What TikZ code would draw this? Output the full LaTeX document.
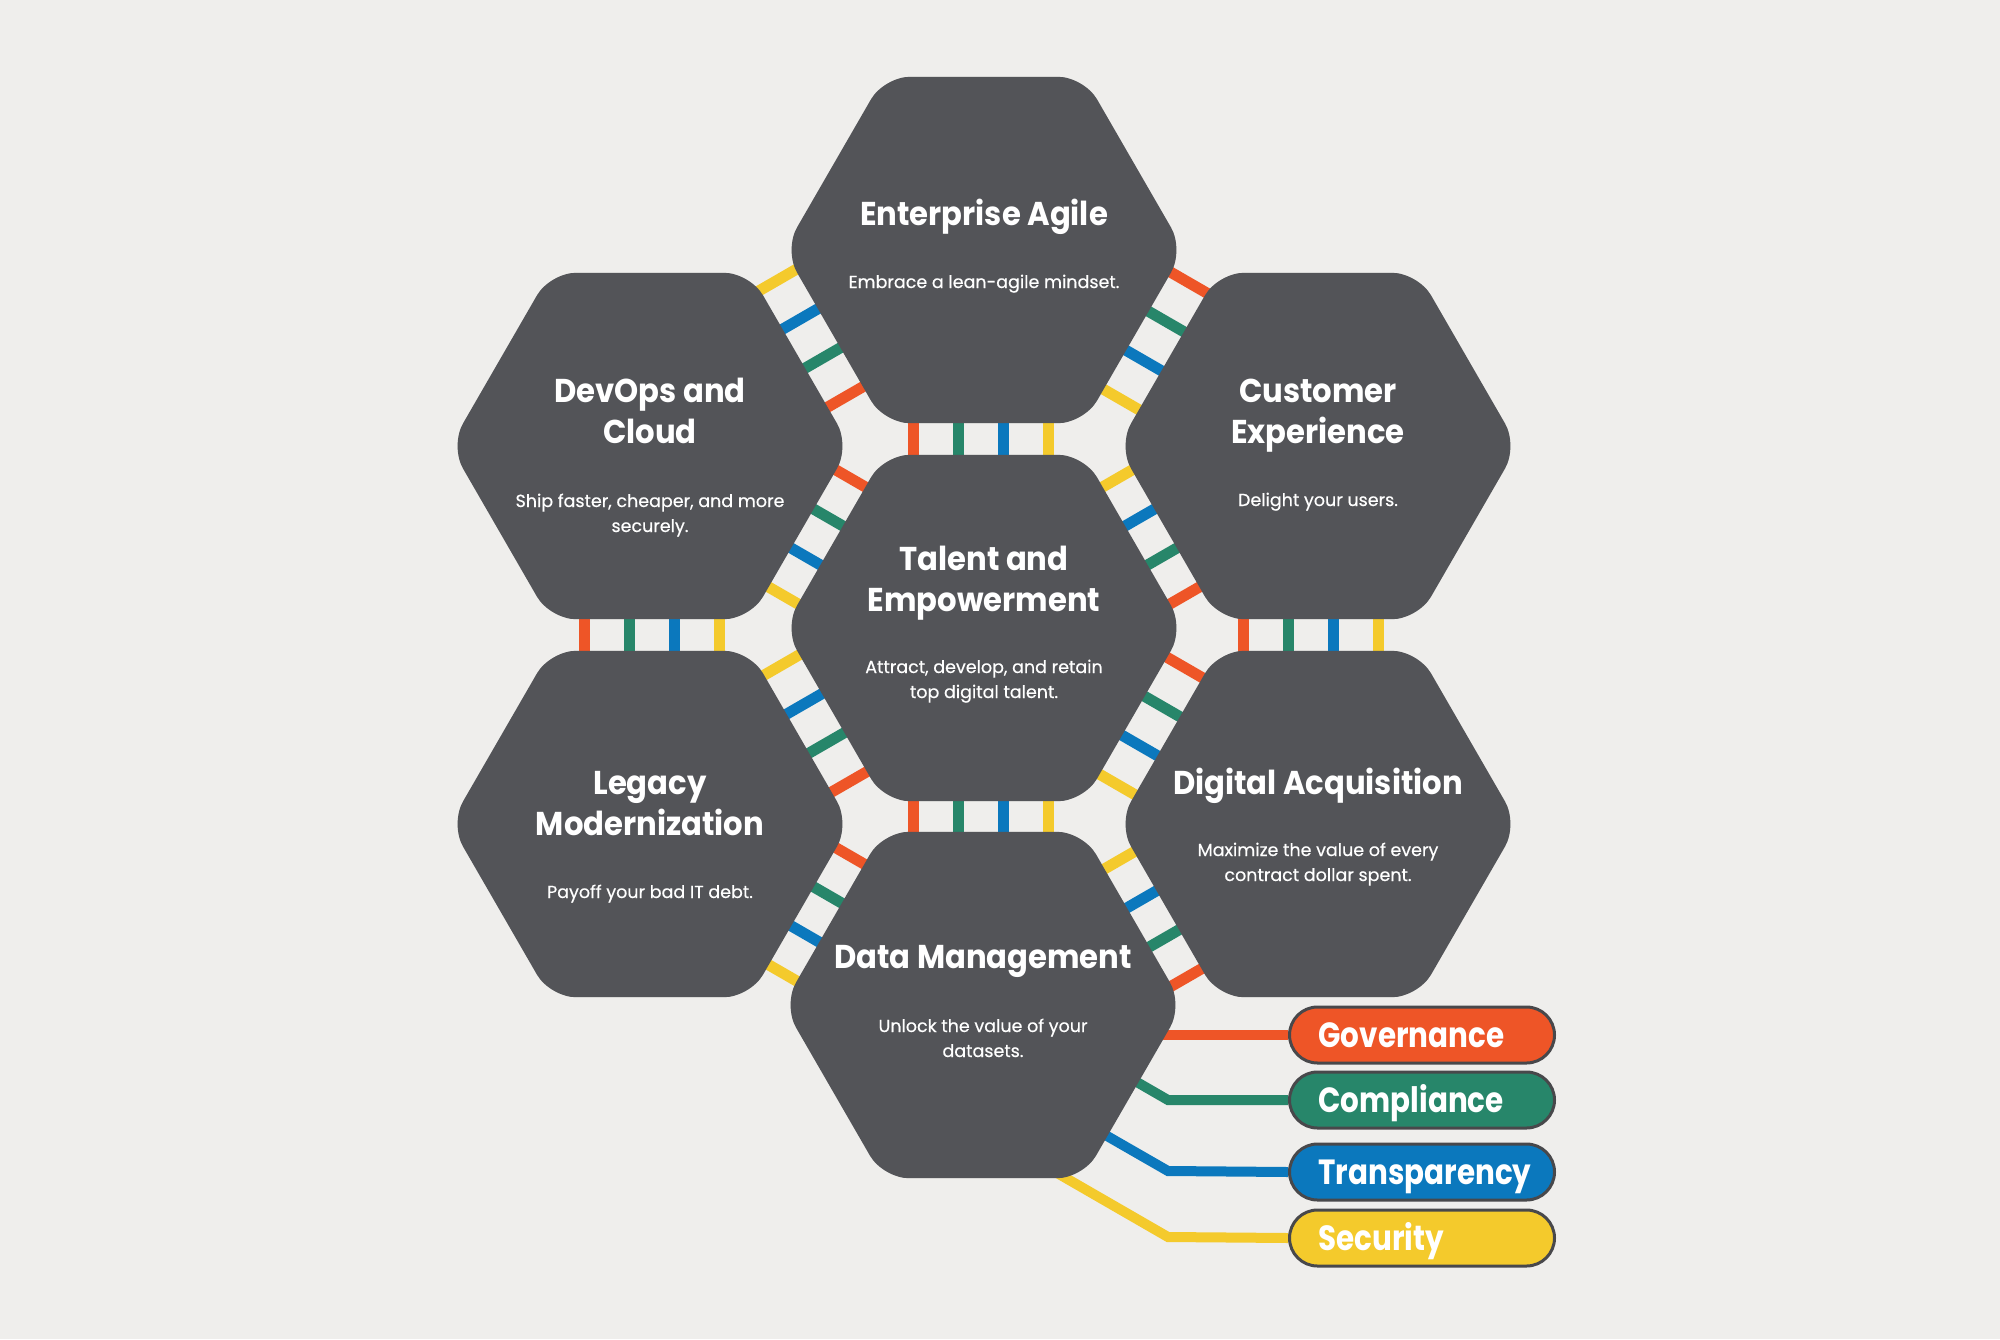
\documentclass[tikz,border=0pt]{standalone}
\usepackage{fontspec}
\setmainfont{Poppins}
\newfontfamily\ttlf{Poppins}[FakeStretch=0.93]
\newfontfamily\lgdf{Poppins}[FakeStretch=0.84]
\newfontfamily\bdyf{Poppins}[FakeBold=0.4]
\usetikzlibrary{calc}

\definecolor{bg}{HTML}{EFEEEC}
\definecolor{shade}{HTML}{DCDBD9}
\definecolor{hexc}{HTML}{535458}
\definecolor{cO}{HTML}{EE5527}
\definecolor{cG}{HTML}{27866A}
\definecolor{cB}{HTML}{0B78BD}
\definecolor{cY}{HTML}{F4CA2C}
\definecolor{rim}{HTML}{48484B}

\newcommand\ttlfont{\ttlf\fontsize{33}{40}\selectfont\bfseries}
\newcommand\bdyfont{\bdyf\fontsize{17.5}{25}\selectfont}
\newcommand\lgdfont{\lgdf\fontsize{35}{40}\selectfont\bfseries}

% hexagon outline around a centre, starting mid bottom edge
\newcommand\hexpath[1]{($(#1)+(0,173.2)$) -- ($(#1)+(120:200)$) -- ($(#1)+(180:200)$) -- ($(#1)+(240:200)$) -- ($(#1)+(300:200)$) -- ($(#1)+(0:200)$) -- ($(#1)+(60:200)$) -- cycle}

% ladder of four rungs between two hexagons
\newcommand\ladder[6]{%
  \coordinate (m) at ($(#1)!0.5!(#2)$);
  \foreach \col [count=\i] in {#6} {%
    \draw[rung=\col] ($(m)+(#4:{(\i-2.5)*45+#5})+(#3:-30)$) -- ($(m)+(#4:{(\i-2.5)*45+#5})+(#3:30)$);
  }%
}

\begin{document}
\begin{tikzpicture}[x=1pt,y=-1pt,
  rung/.style={line width=11pt, draw=#1},
  legline/.style={line width=10pt, draw=#1},
  hexfill/.style={fill=hexc, rounded corners=26pt},
  hexshade/.style={fill=shade, rounded corners=26pt},
  ttl/.style={text=white, font=\ttlfont, anchor=base, inner sep=0pt},
  bdy/.style={text=white, font=\bdyfont, anchor=base, inner sep=0pt},
  legbox/.style={fill=#1, draw=rim, line width=3pt, rounded corners=28pt,
    minimum width=265pt, minimum height=56pt, text width=207pt,
    inner xsep=29pt, inner ysep=0pt, align=left, text height=27pt,
    text depth=2pt, text=white, font=\lgdfont, anchor=west}
]
\useasboundingbox (0,0) rectangle (2000,1339);
\fill[bg] (0,0) rectangle (2000,1339);

\coordinate (ea)  at (984,250);
\coordinate (dev) at (650,446);
\coordinate (cx)  at (1318,446);
\coordinate (tal) at (984,628);
\coordinate (leg) at (650,824);
\coordinate (dig) at (1318,824);
\coordinate (dm)  at (983,1005);

% shadows
\begin{scope}[shift={(14,5)}]
\foreach \h in {ea,dev,cx,tal,leg,dig,dm} { \fill[hexshade] \hexpath{\h}; }
\end{scope}

% ladders
\ladder{ea}{tal}{90}{0}{-3}{cO,cG,cB,cY}
\ladder{tal}{dm}{90}{0}{-3}{cO,cG,cB,cY}
\ladder{dev}{leg}{90}{0}{2}{cO,cG,cB,cY}
\ladder{cx}{dig}{90}{0}{-7}{cO,cG,cB,cY}
\ladder{ea}{dev}{150}{60}{-11}{cY,cB,cG,cO}
\ladder{ea}{cx}{30}{120}{-8}{cO,cG,cB,cY}
\ladder{dev}{tal}{30}{120}{0}{cO,cG,cB,cY}
\ladder{cx}{tal}{150}{60}{0}{cY,cB,cG,cO}
\ladder{tal}{leg}{150}{60}{-3}{cY,cB,cG,cO}
\ladder{tal}{dig}{30}{120}{0}{cO,cG,cB,cY}
\ladder{leg}{dm}{30}{120}{0}{cO,cG,cB,cY}
\ladder{dig}{dm}{150}{60}{5}{cY,cB,cG,cO}

% legend anchors
\coordinate (govA)   at (1288,1035);
\coordinate (compA)  at (1288,1100);
\coordinate (transA) at (1288,1172);
\coordinate (secA)   at (1288,1238);

% legend lines from Data Management
\draw[legline=cO] ($(dm)+(150,30)$) -- (govA);
\draw[legline=cG] ($(dm)+(133,65)$) -- ($(dm)+(185,95)$) -- (compA);
\draw[legline=cB] ($(dm)+(98,116)$) -- ($(dm)+(185,166)$) -- (transA);
\draw[legline=cY] ($(dm)+(55,157)$) -- ($(dm)+(185,232)$) -- (secA);

% legend boxes
\node[legbox=cO] (gov)   at (govA) {Governance};
\node[legbox=cG] (comp)  at (compA) {Compliance};
\node[legbox=cB] (trans) at (transA) {Transparency};
\node[legbox=cY] (sec)   at (secA) {Security};

% hexagons
\foreach \h in {ea,dev,cx,tal,leg,dig,dm} { \fill[hexfill] \hexpath{\h}; }

% texts
\node[ttl] (eaT) at (984,225) {Enterprise Agile};
\node[bdy] (eaB) at (984,288) {Embrace a lean-agile mindset.};

\node[ttl] (devT1) at (650,402) {DevOps and};
\node[ttl] (devT2) at (650,443) {Cloud};
\node[bdy] (devB1) at (650,507) {Ship faster, cheaper, and more};
\node[bdy] (devB2) at (650,532) {securely.};

\node[ttl] (cxT1) at (1318,402) {Customer};
\node[ttl] (cxT2) at (1318,443) {Experience};
\node[bdy] (cxB) at (1318,506) {Delight your users.};

\node[ttl] (talT1) at (984,570) {Talent and};
\node[ttl] (talT2) at (984,611) {Empowerment};
\node[bdy] (talB1) at (984,673) {Attract, develop, and retain};
\node[bdy] (talB2) at (984,698) {top digital talent.};

\node[ttl] (legT1) at (650,794) {Legacy};
\node[ttl] (legT2) at (650,835) {Modernization};
\node[bdy] (legB) at (650,898) {Payoff your bad IT debt.};

\node[ttl] (digT) at (1318,794) {Digital Acquisition};
\node[bdy] (digB1) at (1318,856) {Maximize the value of every};
\node[bdy] (digB2) at (1318,881) {contract dollar spent.};

\node[ttl] (dmT) at (983,968) {Data Management};
\node[bdy] (dmB1) at (983,1032) {Unlock the value of your};
\node[bdy] (dmB2) at (983,1057) {datasets.};
\end{tikzpicture}
\end{document}
